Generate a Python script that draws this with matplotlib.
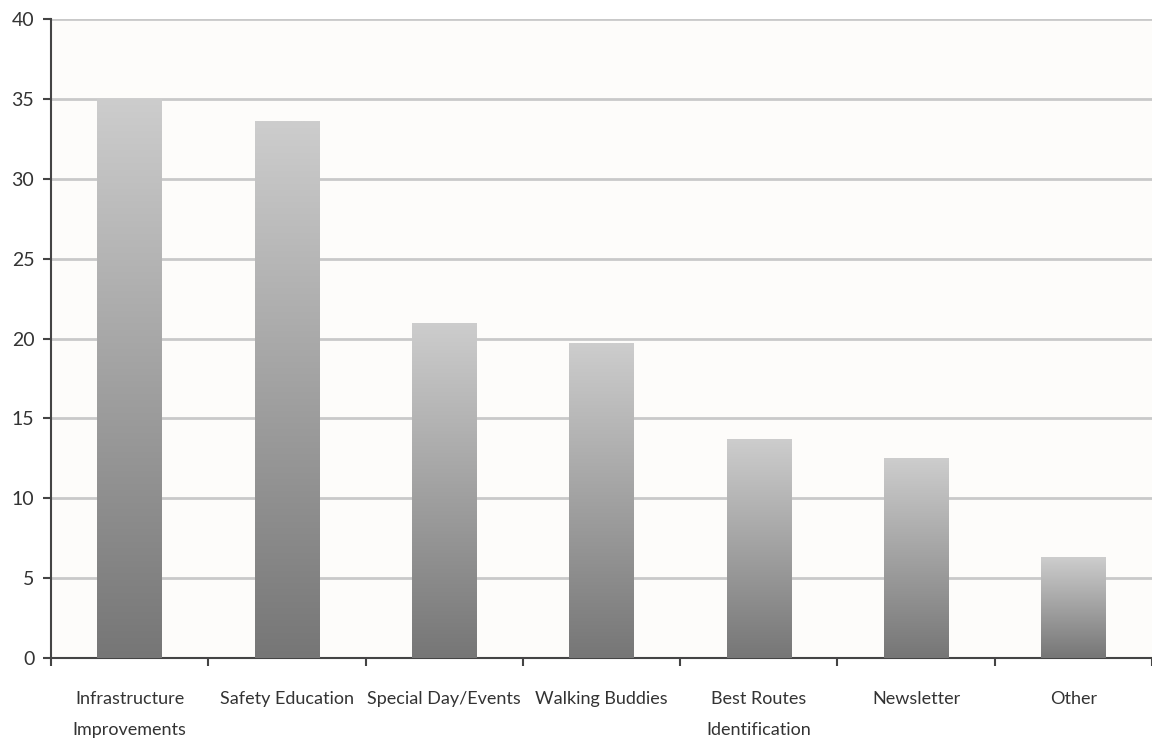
import matplotlib
matplotlib.use("Agg")
import matplotlib.pyplot as plt
import numpy as np
from matplotlib.colors import LinearSegmentedColormap

categories = ["Infrastructure\nImprovements", "Safety Education", "Special Day/Events",
              "Walking Buddies", "Best Routes\nIdentification", "Newsletter", "Other"]
values = [35.0, 33.6, 21.0, 19.7, 13.7, 12.5, 6.3]
yticks = [0, 5, 10, 15, 20, 25, 30, 35, 40]

plt.rcParams['font.family'] = ['Lato', 'DejaVu Sans']

fig = plt.figure(figsize=(11.52, 7.42), dpi=100, facecolor='white')
ax = fig.add_axes([51/1152, 1 - 658/742, 1101/1152, (658-19)/742])
ax.set_facecolor('#fdfcfa')

x = np.arange(len(categories))
bars = ax.bar(x, values, width=0.41, color='none', edgecolor='none', zorder=3)

cmap = LinearSegmentedColormap.from_list('g', ['#767676', '#cdcdcd'])
grad = np.linspace(0, 1, 256).reshape(-1, 1)
for b in bars:
    x0, y0 = b.get_x(), b.get_y()
    w, h = b.get_width(), b.get_height()
    im = ax.imshow(grad, cmap=cmap, origin='lower', aspect='auto',
                   extent=(x0, x0 + w, y0, y0 + h), zorder=3)
    im.set_clip_path(b)

ax.set_xlim(-0.5, len(categories) - 0.5)
ax.set_ylim(0, 40)
ax.set_yticks(yticks)
ax.yaxis.grid(True, color='#c9c9c9', linewidth=2, zorder=1)
ax.set_axisbelow(True)

ax.set_xticks(x)
ax.set_xticklabels(categories, fontsize=13, color='#333333', linespacing=2.1)
ax.set_xticks(np.arange(len(categories) + 1) - 0.5, minor=True)
ax.tick_params(axis='x', which='major', length=0, pad=24)
ax.tick_params(axis='x', which='minor', length=6, width=1.5, color='#444444', direction='out')
ax.tick_params(axis='y', length=6, width=1.5, color='#444444', labelsize=14,
               labelcolor='#333333', pad=6)

for s in ['top', 'right']:
    ax.spines[s].set_visible(False)
for s in ['left', 'bottom']:
    ax.spines[s].set_color('#444444')
    ax.spines[s].set_linewidth(1.5)

fig.savefig('out.png', dpi=100, facecolor='white')
